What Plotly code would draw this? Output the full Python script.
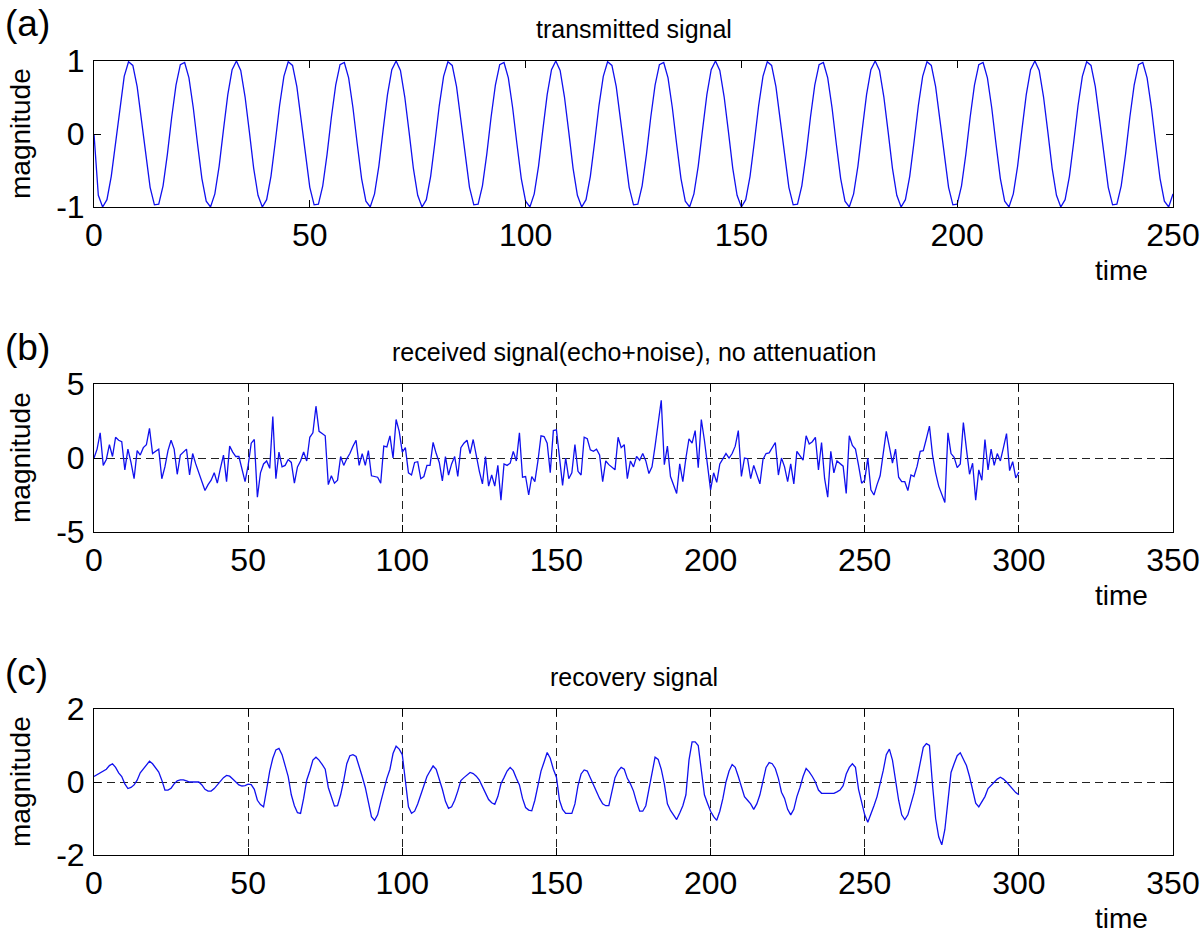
import plotly.graph_objects as go

# ---------------- data ----------------
# (a) transmitted signal, time 0..250
transmitted = [
    0.0,
    -0.84, -1.0, -0.9, -0.58, -0.11, 0.39, 0.79, 0.99, 0.94, 0.65, 0.19, -0.31, -0.73, -0.97, -0.96, -0.71, -0.28, 0.23, 0.67, 0.95, 0.98, 0.77, 0.36, -0.14, -0.61, -0.92, -1.0, -0.82, -0.44, 0.06, 0.54, 0.88, 1.0, 0.87, 0.51, 0.03, -0.47,
    -0.84, -1.0, -0.9, -0.58, -0.11, 0.39, 0.79, 0.99, 0.94, 0.65, 0.19, -0.31, -0.73, -0.97, -0.96, -0.71, -0.28, 0.23, 0.67, 0.95, 0.98, 0.77, 0.36, -0.14, -0.61, -0.92, -1.0, -0.82, -0.44, 0.06, 0.54, 0.88, 1.0, 0.87, 0.51, 0.03, -0.47,
    -0.84, -1.0, -0.9, -0.58, -0.11, 0.39, 0.79, 0.99, 0.94, 0.65, 0.19, -0.31, -0.73, -0.97, -0.96, -0.71, -0.28, 0.23, 0.67, 0.95, 0.98, 0.77, 0.36, -0.14, -0.61, -0.92, -1.0, -0.82, -0.44, 0.06, 0.54, 0.88, 1.0, 0.87, 0.51, 0.03, -0.47,
    -0.84, -1.0, -0.9, -0.58, -0.11, 0.39, 0.79, 0.99, 0.94, 0.65, 0.19, -0.31, -0.73, -0.97, -0.96, -0.71, -0.28, 0.23, 0.67, 0.95, 0.98, 0.77, 0.36, -0.14, -0.61, -0.92, -1.0, -0.82, -0.44, 0.06, 0.54, 0.88, 1.0, 0.87, 0.51, 0.03, -0.47,
    -0.84, -1.0, -0.9, -0.58, -0.11, 0.39, 0.79, 0.99, 0.94, 0.65, 0.19, -0.31, -0.73, -0.97, -0.96, -0.71, -0.28, 0.23, 0.67, 0.95, 0.98, 0.77, 0.36, -0.14, -0.61, -0.92, -1.0, -0.82, -0.44, 0.06, 0.54, 0.88, 1.0, 0.87, 0.51, 0.03, -0.47,
    -0.84, -1.0, -0.9, -0.58, -0.11, 0.39, 0.79, 0.99, 0.94, 0.65, 0.19, -0.31, -0.73, -0.97, -0.96, -0.71, -0.28, 0.23, 0.67, 0.95, 0.98, 0.77, 0.36, -0.14, -0.61, -0.92, -1.0, -0.82, -0.44, 0.06, 0.54, 0.88, 1.0, 0.87, 0.51, 0.03, -0.47,
    -0.84, -1.0, -0.9, -0.58, -0.11, 0.39, 0.79, 0.99, 0.94, 0.65, 0.19, -0.31, -0.73, -0.97, -0.96, -0.71, -0.28, 0.23, 0.67, 0.95, 0.98, 0.77, 0.36, -0.14, -0.61, -0.92, -1.0, -0.82,
]

# (b) received signal (echo + noise), time 0..300
received = [
    0.0, 0.6, 1.7, -0.5, -0.1, 0.9, 0.1, 1.4, 1.2, 1.1,
    -0.8, 0.6, -0.3, -1.4, 0.5, 0.2, 0.7, 0.9, 2.0, 0.3,
    0.45, 0.6, -1.4, -0.6, 0.5, 1.2, 0.6, -1.1, 0.2, 0.4,
    0.6, -1.15, 0.3, -0.4, -1.0, -1.5, -2.2, -1.8, -1.5, -1.0,
    -1.7, -0.7, 0.2, -1.6, 0.8, 0.4, 0.1, 0.1, -0.7, -1.6,
    -0.5, 1.0, 1.25, -2.65, -1.0, -0.4, -0.2, -0.7, 2.8, -1.4,
    0.4, -0.6, -0.5, -0.1, -0.3, -1.7, -0.6, -0.2, 0.4, -0.2,
    1.4, 1.7, 3.5, 1.8, 1.65, 1.5, -1.8, -1.2, -1.7, -1.5,
    0.1, -0.5, -0.05, 0.3, 0.8, 1.2, -0.5, 0.3, -0.5, 0.5,
    -1.2, -1.25, -1.3, -1.7, 0.8, 0.75, 1.5, 0.0, 2.6, 1.8,
    0.4, 0.7, -1.0, -1.15, -0.3, -0.25, -1.4, -1.25, -0.5, -0.5,
    1.05, 0.3, -0.3, -1.55, 0.1, -1.15, -0.4, 0.1, -1.25, 0.7,
    1.0, 1.2, 0.3, 1.25, 0.05, -0.9, -1.75, 0.1, -1.9, -1.15,
    -1.9, -0.5, -2.85, -0.4, -0.5, -0.35, 0.45, -0.2, 1.7, -1.3,
    -1.25, -2.5, -1.25, -1.6, -0.2, 1.5, 1.45, 1.0, -1.0, 1.85,
    1.9, -0.2, -1.85, 0.0, -1.4, -1.0, 0.9, -0.9, -1.15, 1.4,
    1.3, 0.55, 0.45, 0.6, 0.2, -1.6, -0.2, -0.45, -0.6, -0.8,
    1.4, 0.7, 0.9, -1.4, -0.2, -0.6, 0.1, -0.15, 0.3, -0.2,
    -1.05, -0.6, 0.8, 2.2, 3.9, -0.45, 0.8, -1.25, -1.8, -2.4,
    -0.4, -1.6, 0.0, 1.3, 1.0, 1.85, -0.65, 2.6, 1.2, -0.3,
    -2.15, -1.0, -1.65, -0.4, 0.0, 0.3, 0.0, 0.3, 0.8, 1.85,
    -1.25, 0.0, -0.05, -1.4, -0.5, -1.1, -1.75, -0.1, 0.3, 0.35,
    0.7, 1.05, -1.15, 0.0, -0.6, -1.6, -0.4, -1.75, 0.45, 0.15,
    -0.15, 1.5, 0.95, 1.1, 1.4, -0.8, 1.05, -1.4, -2.65, 0.45,
    -1.0, -0.2, -0.4, -0.55, -2.4, 1.5, 0.85, 0.6, -0.5, -1.7,
    -1.5, 0.0, -2.15, -2.5, -1.8, -1.2, 0.3, 1.8, 0.75, -0.35,
    0.6, -1.3, -1.6, -1.6, -2.2, -1.15, -1.25, -0.55, 0.45, 0.5,
    1.3, 2.15, 0.2, -1.0, -1.9, -2.5, -3.0, 1.7, 0.3, 0.05,
    -0.65, -0.4, 2.4, 0.6, -1.1, -0.35, -2.85, -0.8, -1.5, 1.25,
    -0.8, 0.6, -0.5, 0.3, -0.2, 0.7, 1.65, -0.85, -0.25, -1.35,
    -0.95,
]

# (c) recovery signal, time 0..300
recovery = [
    0.15, 0.2, 0.25, 0.3, 0.35, 0.45, 0.5, 0.4, 0.25, 0.15,
    -0.05, -0.18, -0.15, -0.08, 0.05, 0.25, 0.35, 0.45, 0.57, 0.5,
    0.37, 0.27, 0.05, -0.22, -0.22, -0.17, -0.05, 0.03, 0.06, 0.06,
    0.03, 0.0, 0.0, 0.0, 0.0, -0.08, -0.2, -0.25, -0.25, -0.18,
    -0.07, 0.03, 0.12, 0.18, 0.16, 0.08, 0.0, -0.08, -0.11, -0.1,
    -0.06, -0.07, -0.2, -0.5, -0.62, -0.68, -0.2, 0.3, 0.65, 0.88,
    0.92, 0.75, 0.45, 0.15, -0.35, -0.65, -0.84, -0.86, -0.45, 0.05,
    0.3, 0.6, 0.68, 0.6, 0.48, 0.35, -0.15, -0.4, -0.66, -0.65,
    -0.35, 0.04, 0.5, 0.72, 0.75, 0.7, 0.45, 0.15, -0.15, -0.55,
    -0.95, -1.05, -0.9, -0.55, -0.2, 0.1, 0.35, 0.78, 0.98, 0.9,
    0.75, 0.02, -0.68, -0.86, -0.8, -0.6, -0.37, -0.1, 0.15, 0.3,
    0.44, 0.35, 0.1, -0.2, -0.53, -0.72, -0.68, -0.5, -0.25, 0.04,
    0.12, 0.2, 0.26, 0.23, 0.16, 0.05, -0.12, -0.3, -0.48, -0.57,
    -0.61, -0.4, -0.05, 0.12, 0.3, 0.4, 0.31, 0.1, -0.08, -0.45,
    -0.7, -0.77, -0.79, -0.5, -0.05, 0.3, 0.55, 0.81, 0.65, 0.35,
    0.13, -0.5, -0.75, -0.86, -0.86, -0.86, -0.6, -0.1, 0.22, 0.33,
    0.3, 0.1, -0.05, -0.25, -0.45, -0.6, -0.65, -0.65, -0.3, 0.12,
    0.3, 0.4, 0.35, 0.1, -0.05, -0.25, -0.55, -0.8, -0.8, -0.65,
    -0.2, 0.25, 0.68, 0.62, 0.35, -0.05, -0.6, -0.78, -0.9, -1.03,
    -0.85, -0.65, -0.35, 0.6, 1.1, 1.1, 1.0, 0.37, -0.35, -0.58,
    -0.8, -0.95, -1.05, -0.8, -0.45, 0.0, 0.3, 0.48, 0.4, 0.15,
    -0.15, -0.4, -0.5, -0.6, -0.75, -0.6, -0.35, 0.05, 0.4, 0.53,
    0.5, 0.37, 0.1, -0.28, -0.45, -0.75, -0.9, -0.75, -0.4, -0.15,
    0.15, 0.37, 0.28, 0.15, 0.0, -0.22, -0.31, -0.31, -0.31, -0.31,
    -0.31, -0.27, -0.22, -0.1, 0.22, 0.4, 0.5, 0.4, -0.2, -0.55,
    -0.9, -1.1, -0.9, -0.65, -0.4, -0.05, 0.31, 0.75, 0.9, 0.6,
    0.0, -0.5, -0.9, -1.03, -0.9, -0.6, -0.3, 0.1, 0.5, 0.95,
    1.05, 1.0, -0.09, -1.0, -1.5, -1.72, -1.3, -0.55, 0.26, 0.5,
    0.72, 0.8, 0.62, 0.45, 0.15, -0.25, -0.58, -0.68, -0.55, -0.4,
    -0.18, -0.09, 0.0, 0.08, 0.13, 0.08, 0.0, -0.1, -0.22, -0.29,
    -0.35,
]

time_a = list(range(len(transmitted)))
time_b = list(range(len(received)))
time_c = list(range(len(recovery)))

titles = ["transmitted signal", "received signal(echo+noise), no attenuation", "recovery signal"]
panel_labels = ["(a)", "(b)", "(c)"]
x_ranges = [[0, 250], [0, 350], [0, 350]]
x_tickvals = [[0, 50, 100, 150, 200, 250], [0, 50, 100, 150, 200, 250, 300, 350], [0, 50, 100, 150, 200, 250, 300, 350]]
y_ranges = [[-1, 1], [-5, 5], [-2, 2]]
y_tickvals = [[-1, 0, 1], [-5, 0, 5], [-2, 0, 2]]
y_ticktext = [["-1", "0", "1"], ["-5", "0", "5"], ["-2", "0", "2"]]

# ---------------- layout helpers ----------------
W, H = 1200, 933
FONT = "Liberation Sans, Arial, Helvetica, sans-serif"
LINE_COLOR = "#1010ee"

def fx(p):
    """window pixel x -> paper fraction"""
    return p / W

def fy(p):
    """window pixel y (from top) -> paper fraction"""
    return 1 - p / H

# pixel boxes of the three plot areas (left, right, top, bottom)
boxes = [(94, 1173, 61, 207), (94, 1173, 384, 532), (94, 1173, 709, 855)]

fig = go.Figure()
series = [(time_a, transmitted), (time_b, received), (time_c, recovery)]
for i, (xs, ys) in enumerate(series):
    sfx = "" if i == 0 else str(i + 1)
    fig.add_trace(go.Scatter(
        x=xs, y=ys, mode="lines",
        line=dict(color=LINE_COLOR, width=1.3),
        xaxis="x" + sfx, yaxis="y" + sfx, showlegend=False, hoverinfo="skip",
    ))

layout = dict(
    width=W, height=H, autosize=False,
    margin=dict(l=0, r=0, t=0, b=0, pad=0, autoexpand=False),
    paper_bgcolor="white", plot_bgcolor="white",
    showlegend=False,
    font=dict(family=FONT, color="black"),
)

TICK_SIZE = 32
annotations = []
for i, (l, r, t, b) in enumerate(boxes):
    sfx = "" if i == 0 else str(i + 1)
    grid = i > 0
    xa = dict(
        domain=[fx(l), fx(r)], range=x_ranges[i],
        tickmode="array", tickvals=x_tickvals[i],
        ticktext=[str(v) for v in x_tickvals[i]],
        anchor="y" + sfx, showline=True, linecolor="black", linewidth=1,
        mirror="allticks", ticks="inside", ticklen=7, tickcolor="black",
        tickfont=dict(family=FONT, size=TICK_SIZE, color="black"),
        showgrid=grid, gridcolor="#222222", gridwidth=1, griddash="8px,5px",
        zeroline=False, fixedrange=True, automargin=False, ticklabelstandoff=0,
        ticklabeloverflow="allow",
    )
    ya = dict(
        domain=[fy(b), fy(t)], range=y_ranges[i],
        tickmode="array", tickvals=y_tickvals[i], ticktext=y_ticktext[i],
        anchor="x" + sfx, showline=True, linecolor="black", linewidth=1,
        mirror="allticks", ticks="inside", ticklen=7, tickcolor="black",
        tickfont=dict(family=FONT, size=TICK_SIZE, color="black"),
        showgrid=grid, gridcolor="#222222", gridwidth=1, griddash="8px,5px",
        zeroline=False, fixedrange=True, automargin=False, ticklabelstandoff=2,
        ticklabeloverflow="allow",
    )
    layout["xaxis" + sfx] = xa
    layout["yaxis" + sfx] = ya

    # subplot title
    annotations.append(dict(
        text=titles[i], x=fx(634), y=fy(t - 32), xref="paper", yref="paper",
        xanchor="center", yanchor="middle", showarrow=False,
        font=dict(family=FONT, size=25, color="black"),
    ))
    # panel label
    annotations.append(dict(
        text=panel_labels[i], x=fx(3), y=fy(t - 37), xref="paper", yref="paper",
        xanchor="left", yanchor="middle", showarrow=False,
        font=dict(family=FONT, size=37, color="black"),
    ))
    # x label
    annotations.append(dict(
        text="time", x=fx(1121), y=fy(b + 63), xref="paper", yref="paper",
        xanchor="center", yanchor="middle", showarrow=False,
        font=dict(family=FONT, size=28, color="black"),
    ))
    # y label
    annotations.append(dict(
        text="magnitude", x=fx(20), y=fy((t + b) / 2), xref="paper", yref="paper",
        xanchor="center", yanchor="middle", showarrow=False, textangle=-90,
        font=dict(family=FONT, size=28, color="black"),
    ))

layout["annotations"] = annotations
fig.update_layout(**layout)

# remove the browser's default 8px page margin so the figure fills the window
fig.write_html(
    "out.html",
    config={"displayModeBar": False, "staticPlot": True},
    post_script="document.body.style.margin='0';document.body.style.overflow='hidden';",
)
